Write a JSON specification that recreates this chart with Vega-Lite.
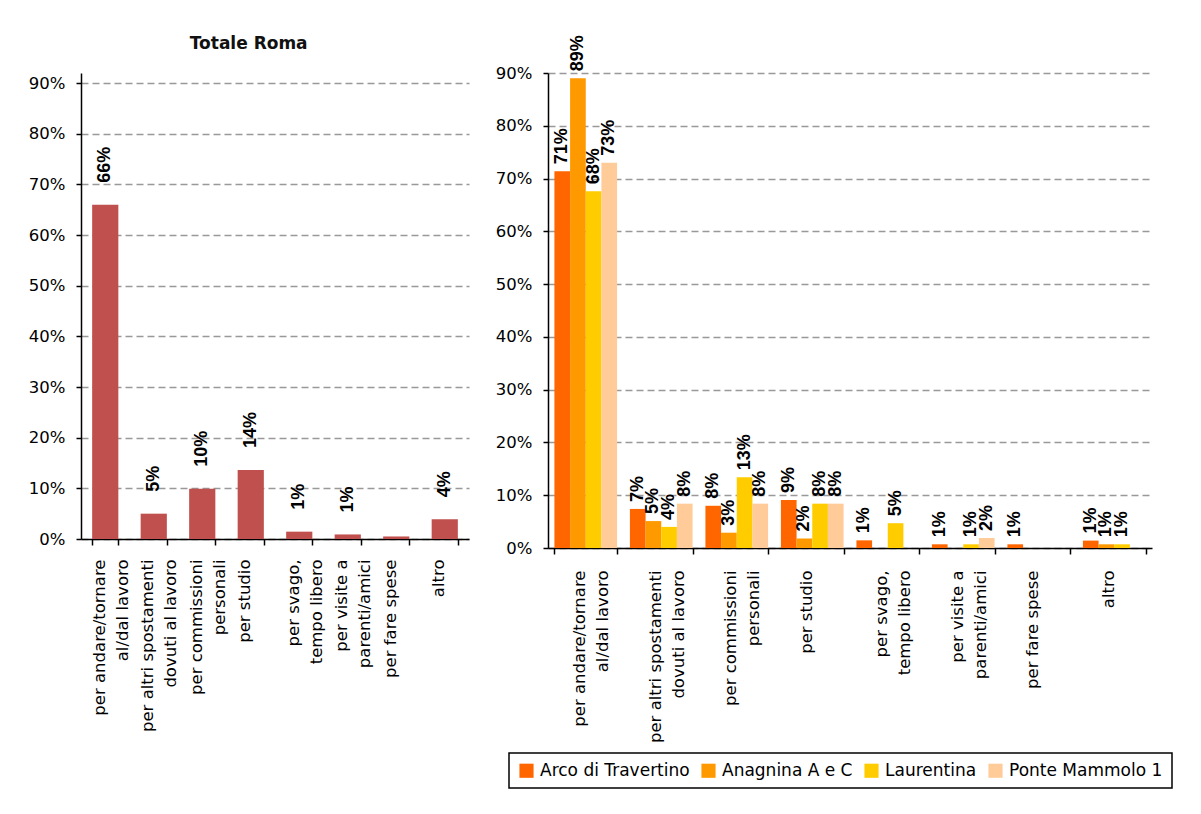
{
  "$schema": "https://vega.github.io/schema/vega-lite/v6.json",
  "background": "white",
  "padding": {"left": 28, "top": 35, "right": 5, "bottom": 5},
  "bounds": "flush",
  "spacing": 79,
  "datasets": {
    "roma": [
      {"cat": "per andare/tornare|al/dal lavoro", "value": 0.66},
      {"cat": "per altri spostamenti|dovuti al lavoro", "value": 0.05},
      {"cat": "per commissioni|personali", "value": 0.099},
      {"cat": "per studio", "value": 0.136},
      {"cat": "per svago,|tempo libero", "value": 0.0145},
      {"cat": "per visite a|parenti/amici", "value": 0.009},
      {"cat": "per fare spese", "value": 0.005},
      {"cat": "altro", "value": 0.039}
    ],
    "zone": [
      {"cat": "per andare/tornare|al/dal lavoro", "zona": "Arco di Travertino", "value": 0.714},
      {"cat": "per andare/tornare|al/dal lavoro", "zona": "Anagnina A e C", "value": 0.89},
      {"cat": "per andare/tornare|al/dal lavoro", "zona": "Laurentina", "value": 0.676},
      {"cat": "per andare/tornare|al/dal lavoro", "zona": "Ponte Mammolo 1", "value": 0.73},
      {"cat": "per altri spostamenti|dovuti al lavoro", "zona": "Arco di Travertino", "value": 0.074},
      {"cat": "per altri spostamenti|dovuti al lavoro", "zona": "Anagnina A e C", "value": 0.051},
      {"cat": "per altri spostamenti|dovuti al lavoro", "zona": "Laurentina", "value": 0.04},
      {"cat": "per altri spostamenti|dovuti al lavoro", "zona": "Ponte Mammolo 1", "value": 0.084},
      {"cat": "per commissioni|personali", "zona": "Arco di Travertino", "value": 0.08},
      {"cat": "per commissioni|personali", "zona": "Anagnina A e C", "value": 0.029},
      {"cat": "per commissioni|personali", "zona": "Laurentina", "value": 0.134},
      {"cat": "per commissioni|personali", "zona": "Ponte Mammolo 1", "value": 0.084},
      {"cat": "per studio", "zona": "Arco di Travertino", "value": 0.091},
      {"cat": "per studio", "zona": "Anagnina A e C", "value": 0.018},
      {"cat": "per studio", "zona": "Laurentina", "value": 0.084},
      {"cat": "per studio", "zona": "Ponte Mammolo 1", "value": 0.084},
      {"cat": "per svago,|tempo libero", "zona": "Arco di Travertino", "value": 0.0145},
      {"cat": "per svago,|tempo libero", "zona": "Anagnina A e C", "value": 0},
      {"cat": "per svago,|tempo libero", "zona": "Laurentina", "value": 0.047},
      {"cat": "per svago,|tempo libero", "zona": "Ponte Mammolo 1", "value": 0},
      {"cat": "per visite a|parenti/amici", "zona": "Arco di Travertino", "value": 0.007},
      {"cat": "per visite a|parenti/amici", "zona": "Anagnina A e C", "value": 0},
      {"cat": "per visite a|parenti/amici", "zona": "Laurentina", "value": 0.007},
      {"cat": "per visite a|parenti/amici", "zona": "Ponte Mammolo 1", "value": 0.019},
      {"cat": "per fare spese", "zona": "Arco di Travertino", "value": 0.007},
      {"cat": "per fare spese", "zona": "Anagnina A e C", "value": 0},
      {"cat": "per fare spese", "zona": "Laurentina", "value": 0},
      {"cat": "per fare spese", "zona": "Ponte Mammolo 1", "value": 0},
      {"cat": "altro", "zona": "Arco di Travertino", "value": 0.014},
      {"cat": "altro", "zona": "Anagnina A e C", "value": 0.007},
      {"cat": "altro", "zona": "Laurentina", "value": 0.007},
      {"cat": "altro", "zona": "Ponte Mammolo 1", "value": 0}
    ]
  },
  "config": {
    "view": {"stroke": null},
    "axis": {
      "labelFont": "DejaVu Sans",
      "labelFontSize": 16.5,
      "labelColor": "#000",
      "domainColor": "#000",
      "domainWidth": 1.5,
      "tickColor": "#000",
      "tickWidth": 1.5,
      "title": null
    },
    "legend": {"strokeWidth": 1.5}
  },
  "hconcat": [
    {
      "width": 388,
      "height": 466,
      "title": {"text": "Totale Roma", "font": "DejaVu Sans", "fontSize": 17, "fontWeight": "bold", "color": "#111", "frame": "bounds", "anchor": "middle", "offset": 20},
      "data": {"name": "roma"},
      "encoding": {
        "x": {
          "field": "cat", "type": "nominal", "sort": null,
          "scale": {"paddingInner": 0.46, "paddingOuter": 0.23},
          "axis": {
            "labelAngle": 270, "labelAlign": "right", "labelBaseline": "middle", "labelOffset": -6,
            "labelPadding": 14, "tickSize": 6, "tickBand": "extent",
            "labelLineHeight": 23, "labelLimit": 400, "labelOverlap": false,
            "labelExpr": "indexof(datum.label, '|') < 0 ? datum.label : [pad(split(datum.label, '|')[0], max(length(split(datum.label, '|')[0]), length(split(datum.label, '|')[1])), '\u00a0'), pad(split(datum.label, '|')[1], max(length(split(datum.label, '|')[0]), length(split(datum.label, '|')[1])), '\u00a0')]"
          }
        },
        "y": {
          "field": "value", "type": "quantitative",
          "scale": {"domain": [0, 0.92], "nice": false},
          "axis": {
            "values": [0, 0.1, 0.2, 0.3, 0.4, 0.5, 0.6, 0.7, 0.8, 0.9],
            "format": ".0%", "grid": true, "gridDash": [7, 4], "gridColor": "#999999", "gridWidth": 1.5,
            "tickSize": 5, "labelPadding": 11
          }
        }
      },
      "layer": [
        {"mark": {"type": "bar", "color": "#C0504D"}},
        {
          "transform": [{"filter": "datum.value >= 0.006"}],
          "mark": {"type": "text", "angle": 270, "align": "left", "baseline": "middle", "yOffset": -22, "font": "Liberation Sans", "fontSize": 18, "fontWeight": "bold", "color": "#000"},
          "encoding": {"text": {"field": "value", "type": "quantitative", "format": ".0%"}}
        }
      ]
    },
    {
      "width": 604,
      "height": 475,
      "data": {"name": "zone"},
      "encoding": {
        "x": {
          "field": "cat", "type": "nominal", "sort": null,
          "scale": {"paddingInner": 0.17, "paddingOuter": 0.085},
          "axis": {
            "labelAngle": 270, "labelAlign": "right", "labelBaseline": "middle", "labelOffset": -6,
            "labelPadding": 16, "tickSize": 6, "tickBand": "extent",
            "labelLineHeight": 23, "labelLimit": 400, "labelOverlap": false,
            "labelExpr": "indexof(datum.label, '|') < 0 ? datum.label : [pad(split(datum.label, '|')[0], max(length(split(datum.label, '|')[0]), length(split(datum.label, '|')[1])), '\u00a0'), pad(split(datum.label, '|')[1], max(length(split(datum.label, '|')[0]), length(split(datum.label, '|')[1])), '\u00a0')]"
          }
        },
        "xOffset": {
          "field": "zona", "type": "nominal",
          "sort": ["Arco di Travertino", "Anagnina A e C", "Laurentina", "Ponte Mammolo 1"],
          "scale": {"paddingInner": 0, "paddingOuter": 0}
        },
        "y": {
          "field": "value", "type": "quantitative",
          "scale": {"domain": [0, 0.9], "nice": false},
          "axis": {
            "values": [0, 0.1, 0.2, 0.3, 0.4, 0.5, 0.6, 0.7, 0.8, 0.9],
            "format": ".0%", "grid": true, "gridDash": [7, 4], "gridColor": "#999999", "gridWidth": 1.5,
            "tickSize": 5, "labelPadding": 11
          }
        }
      },
      "layer": [
        {
          "mark": {"type": "bar"},
          "encoding": {
            "color": {
              "field": "zona", "type": "nominal",
              "scale": {"domain": ["Arco di Travertino", "Anagnina A e C", "Laurentina", "Ponte Mammolo 1"], "range": ["#FF6600", "#FF9900", "#FFCC00", "#FFCC99"]},
              "legend": {
                "title": null, "orient": "none", "legendX": 428, "legendY": 680,
                "direction": "horizontal", "columns": 4,
                "symbolType": "square", "symbolSize": 200, "symbolStrokeWidth": 0,
                "labelFont": "DejaVu Sans", "labelFontSize": 17, "labelColor": "#000",
                "labelOffset": 5, "columnPadding": 10, "padding": 9, "labelLimit": 300,
                "strokeColor": "#000", "fillColor": "#fff"
              }
            }
          }
        },
        {
          "transform": [{"filter": "datum.value >= 0.006"}],
          "mark": {"type": "text", "angle": 270, "align": "left", "baseline": "middle", "yOffset": -7, "font": "Liberation Sans", "fontSize": 18, "fontWeight": "bold", "color": "#000"},
          "encoding": {"text": {"field": "value", "type": "quantitative", "format": ".0%"}}
        }
      ]
    }
  ]
}
